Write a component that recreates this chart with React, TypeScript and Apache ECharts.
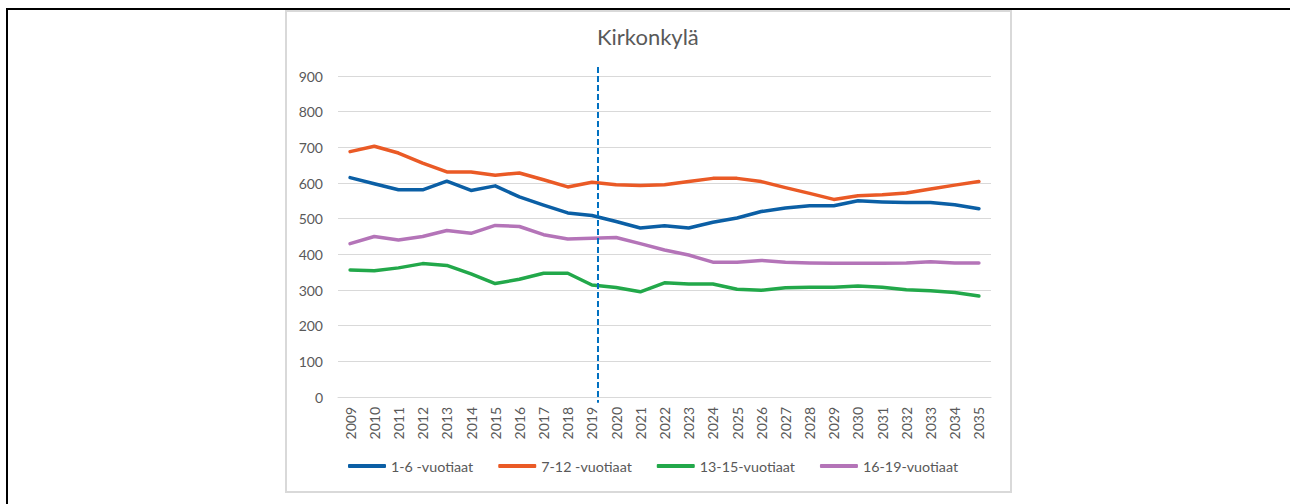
import React, { useEffect, useRef } from "react";
import * as echarts from "echarts";

const years = [
  "2009","2010","2011","2012","2013","2014","2015","2016","2017","2018","2019","2020","2021","2022",
  "2023","2024","2025","2026","2027","2028","2029","2030","2031","2032","2033","2034","2035",
];
const age1to6 = [615,598,581,581,605,579,592,561,538,516,509,492,474,480,474,490,502,520,530,536,536,550,547,545,545,539,528];
const age7to12 = [688,703,684,656,631,631,622,628,609,589,602,595,593,595,604,613,613,604,587,571,554,564,567,572,583,594,604];
const age13to15 = [356,354,362,374,369,345,318,330,347,347,314,307,295,320,317,317,302,299,306,308,308,311,308,301,298,293,283];
const age16to19 = [430,450,440,450,467,459,481,478,455,443,445,447,430,412,398,378,378,383,378,376,375,375,375,376,379,376,376];
const seriesNames = ["1-6 -vuotiaat", "7-12 -vuotiaat", "13-15-vuotiaat", "16-19-vuotiaat"];
const seriesColors = ["#0b5fa5", "#ea5a26", "#22a84a", "#b474b8"];
const yTicks = { min: 0, max: 900, interval: 100 };
const dividerX = 10.25; // just right of 2019 (index 10)
const dividerY = [925, -16];
const chartTitle = "Kirkonkylä";

const FONT = "Lato, 'Open Sans', sans-serif";

export default function App() {
  const ref = useRef<HTMLDivElement>(null);
  useEffect(() => {
    if (!ref.current) return;
    const chart = echarts.init(ref.current, undefined, { renderer: "svg" });
    const values = [age1to6, age7to12, age13to15, age16to19];
    chart.setOption({
      animation: false,
      textStyle: { fontFamily: FONT },
      title: {
        text: chartTitle,
        left: 597,
        top: 25,
        padding: 0,
        textStyle: { fontFamily: FONT, fontSize: 22, fontWeight: "normal", color: "#595959" },
      },
      legend: {
        data: seriesNames,
        left: 348,
        top: 459,
        padding: 0,
        itemWidth: 38,
        itemHeight: 4,
        itemGap: 25,
        icon: "roundRect",
        textStyle: { fontFamily: FONT, fontSize: 14.3, color: "#595959" },
      },
      grid: { left: 338, right: 299, top: 76, bottom: 107, containLabel: false },
      xAxis: [
        {
          type: "category",
          data: years,
          boundaryGap: true,
          axisLine: { show: true, lineStyle: { color: "#d9d9d9", width: 1 } },
          axisTick: { show: false },
          axisLabel: { rotate: 90, margin: 10, color: "#595959", fontSize: 14, fontFamily: FONT, interval: 0 },
          splitLine: { show: false },
        },
        {
          type: "value",
          min: -0.5,
          max: years.length - 0.5,
          show: false,
          splitLine: { show: false },
        },
      ],
      yAxis: {
        type: "value",
        min: yTicks.min,
        max: yTicks.max,
        interval: yTicks.interval,
        axisLine: { show: false },
        axisTick: { show: false },
        axisLabel: { margin: 15, color: "#595959", fontSize: 14, fontFamily: FONT },
        splitLine: { lineStyle: { color: "#d9d9d9", width: 1 } },
      },
      series: [
        ...seriesNames.map((name, i) => ({
          name,
          type: "line",
          data: values[i],
          symbol: "none",
          smooth: false,
          color: seriesColors[i],
          lineStyle: { color: seriesColors[i], width: 3.5, cap: "round", join: "round" },
          z: 3,
        })),
        {
          name: "divider",
          type: "line",
          xAxisIndex: 1,
          data: [[dividerX, dividerY[0]], [dividerX, dividerY[1]]],
          symbol: "none",
          clip: false,
          lineStyle: { color: "#0070c0", width: 2, type: [6, 3] },
          z: 4,
          silent: true,
        },
      ],
    });
    return () => chart.dispose();
  }, []);

  return (
    <div style={{ position: "absolute", left: 0, top: 0, width: 1290, height: 504, background: "#fff", overflow: "hidden" }}>
      <div style={{ position: "absolute", left: 6, top: 8, width: 1284, height: 2, background: "#000" }} />
      <div style={{ position: "absolute", left: 6, top: 8, width: 2, height: 496, background: "#000" }} />
      <div
        style={{
          position: "absolute",
          left: 285,
          top: 10,
          width: 727,
          height: 483,
          border: "2px solid #d9d9d9",
          boxSizing: "border-box",
        }}
      />
      <div ref={ref} style={{ position: "absolute", left: 0, top: 0, width: 1290, height: 504 }} />
    </div>
  );
}
